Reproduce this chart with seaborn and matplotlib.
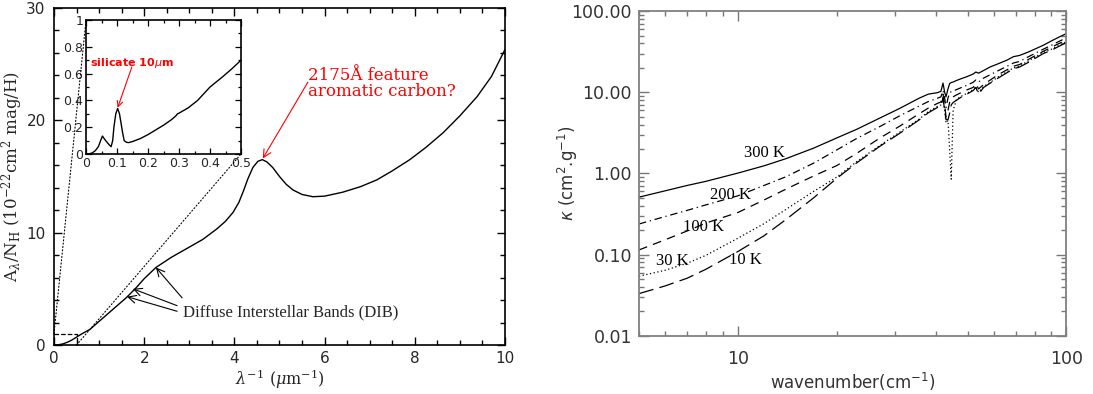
import matplotlib
matplotlib.use('Agg')
import matplotlib.pyplot as plt
import seaborn as sns
from matplotlib.patches import ConnectionPatch
from matplotlib.ticker import MultipleLocator, FormatStrFormatter, NullFormatter, LogLocator, FuncFormatter

# ---------------- data: left panel (extinction curve) ----------------
ext_x = [0, 0.1, 0.2, 0.3, 0.4, 0.5, 0.6, 0.8, 1.0, 1.2, 1.4, 1.6, 1.8, 2.0, 2.26, 2.6, 2.95,
         3.3, 3.6, 3.8, 3.97, 4.1, 4.2, 4.3, 4.41, 4.52, 4.62, 4.72, 4.85, 5.0, 5.15, 5.3, 5.5,
         5.74, 6.0, 6.4, 6.8, 7.16, 7.5, 7.89, 8.25, 8.63, 9.0, 9.38, 9.7, 10.0]
ext_y = [0, 0.02, 0.1, 0.25, 0.45, 0.7, 0.95, 1.4, 2.1, 2.8, 3.5, 4.2, 5.0, 5.9, 6.9, 7.8, 8.6,
         9.4, 10.3, 11.0, 11.8, 12.7, 13.7, 14.8, 15.8, 16.35, 16.5, 16.3, 15.8, 15.0, 14.3, 13.8, 13.4,
         13.2, 13.25, 13.6, 14.1, 14.7, 15.5, 16.5, 17.6, 18.9, 20.4, 22.1, 23.9, 26.3]

# inset (zoom on 0-0.5 um^-1)
ins_x = [0, 0.01, 0.02, 0.03, 0.04, 0.047, 0.053, 0.06, 0.067, 0.075, 0.081, 0.086, 0.09, 0.096,
         0.102, 0.108, 0.113, 0.118, 0.123, 0.13, 0.137, 0.15, 0.175, 0.2, 0.225, 0.25, 0.275,
         0.29, 0.295, 0.3, 0.33, 0.36, 0.4, 0.44, 0.47, 0.5]
ins_y = [0, 0.002, 0.008, 0.025, 0.055, 0.1, 0.134, 0.11, 0.09, 0.068, 0.055, 0.1, 0.2, 0.3,
         0.34, 0.3, 0.23, 0.16, 0.1, 0.088, 0.085, 0.093, 0.115, 0.145, 0.18, 0.215, 0.255,
         0.285, 0.3, 0.305, 0.345, 0.4, 0.5, 0.575, 0.635, 0.70]
ins_xlim = (0, 0.5)
ins_ylim = (0, 1)

# ---------------- data: right panel (opacity vs wavenumber) ----------------
wn = [5, 6, 7, 8, 10, 12, 14, 17, 20, 23, 27, 31, 35.7, 38, 40.5, 41.5, 42.1, 42.6, 43.0, 43.6,
      44.1, 44.6, 45.2, 46.3, 48, 50, 52, 53, 54, 56, 58.5, 62, 66, 69, 72, 76, 80, 85, 90, 95, 100]
k300 = [0.51, 0.61, 0.71, 0.80, 1.01, 1.24, 1.52, 2.05, 2.74, 3.5, 4.8, 6.3, 8.5, 9.5, 9.9, 10.3,
        13.0, 10.0, 8.8, 11.0, 12.8, 13.2, 13.4, 14.0, 14.8, 15.7, 16.8, 17.8, 17.2, 18.6, 20.5,
        22.5, 25, 27.5, 28.5, 31, 34, 38, 43, 48, 53]
k200 = [0.238, 0.294, 0.35, 0.41, 0.53, 0.71, 0.91, 1.34, 1.95, 2.7, 3.77, 5.1, 6.8, 7.7, 8.45, 8.8,
        10.5, 8.5, 6.5, 8.5, 9.8, 10.2, 10.4, 10.8, 11.5, 12.3, 13.3, 14.2, 13.4, 15.0, 16.4,
        18.5, 21, 23, 24, 27, 30, 34, 38, 42.5, 47]
k100 = [0.114, 0.152, 0.195, 0.245, 0.33, 0.47, 0.64, 0.93, 1.25, 1.77, 2.72, 3.8, 5.47, 6.4, 7.3, 7.6,
        9.5, 7.0, 5.0, 6.0, 7.5, 8.5, 8.8, 9.3, 10.0, 10.8, 11.5, 12.8, 11.0, 12.5, 14.1,
        16.5, 19, 21, 22, 25, 28, 32, 36, 40, 44]
k30 = [0.054, 0.064, 0.078, 0.098, 0.159, 0.24, 0.36, 0.6, 0.9, 1.4, 2.2, 3.2, 4.7, 5.8, 6.7, 7.0,
       8.8, 6.0, 4.2, 4.5, 2.0, 0.85, 6.0, 8.2, 9.0, 9.8, 10.8, 11.8, 10.0, 11.8, 13.2,
       15.5, 18, 20, 21, 24, 27, 31, 34, 38, 42]
k10 = [0.033, 0.041, 0.051, 0.066, 0.109, 0.17, 0.27, 0.5, 0.87, 1.35, 2.15, 3.1, 4.6, 5.6, 6.5, 6.8,
       8.5, 6.0, 4.6, 4.6, 5.5, 7.0, 7.5, 8.0, 8.8, 9.6, 10.5, 11.5, 9.5, 11.5, 12.9,
       15, 17.5, 19.5, 20.5, 23, 26, 30, 33, 37, 41]
temp_labels = ['300 K', '200 K', '100 K', '30 K', '10 K']
temp_series = [k300, k200, k100, k30, k10]
temp_styles = ['-', (0, (6, 3, 1, 3)), (0, (7, 5)), (0, (1, 2)), (0, (12, 5))]
label_pos = [(12.05, 1.79), (9.49, 0.543), (7.88, 0.216), (6.31, 0.0822), (10.54, 0.0857)]

sns.set_style('ticks')
plt.rcParams['font.family'] = ['DejaVu Sans']
plt.rcParams['axes.linewidth'] = 1.2

fig = plt.figure(figsize=(10.93, 3.94), dpi=100)

# ================= left panel =================
ax = fig.add_axes([0.0494, 0.1244, 0.4126, 0.8553])
sns.lineplot(x=ext_x, y=ext_y, ax=ax, color='black', lw=1.0)
ax.set_xlim(0, 10)
ax.set_ylim(0, 30)
ax.xaxis.set_major_locator(MultipleLocator(2))
ax.xaxis.set_minor_locator(MultipleLocator(0.5))
ax.yaxis.set_major_locator(MultipleLocator(10))
ax.yaxis.set_minor_locator(MultipleLocator(2))
ax.tick_params(which='both', direction='in', top=True, right=True, color='black', width=1.0)
ax.tick_params(which='major', length=6, labelsize=11)
ax.tick_params(which='minor', length=3.5)
ax.tick_params(axis='y', pad=6)
ax.tick_params(axis='x', pad=4)
for s in ax.spines.values():
    s.set_color('black')
ax.set_xlabel(r'$\lambda^{-1}$ ($\mu$m$^{-1}$)', family='DejaVu Serif', fontsize=11.5,
              math_fontfamily='dejavuserif')
ax.xaxis.set_label_coords(0.5, -0.066)
ax.set_ylabel(r'A$_\lambda$/N$_{\rm H}$ (10$^{-22}$cm$^2$ mag/H)', family='DejaVu Serif',
              fontsize=12, math_fontfamily='dejavuserif')
ax.yaxis.set_label_coords(-0.064, 0.5)

# zoom box
ax.plot([ins_xlim[0], ins_xlim[1], ins_xlim[1]], [ins_ylim[1], ins_ylim[1], ins_ylim[0]],
        ls='--', color='black', lw=0.9)

# annotations
ax.text(2.86, 2.94, 'Diffuse Interstellar Bands (DIB)', family='Liberation Serif', fontsize=12,
        ha='left', va='center')
for tip, tail in [((2.26, 6.9), (2.84, 4.2)), ((1.75, 5.0), (2.73, 3.5)), ((1.62, 4.3), (2.73, 3.0))]:
    ax.annotate('', xy=tip, xytext=tail,
                arrowprops=dict(arrowstyle='->', color='black', lw=0.8, shrinkA=0, shrinkB=0,
                                mutation_scale=14))
ax.text(5.63, 23.3, '2175Å feature\naromatic carbon?', family='DejaVu Serif', fontsize=12,
        color='red', ha='left', va='center', linespacing=0.95)
ax.annotate('', xy=(4.63, 16.6), xytext=(5.63, 23.4),
            arrowprops=dict(arrowstyle='->', color='red', lw=0.8, shrinkA=0, shrinkB=0,
                            mutation_scale=14))

# inset
axins = fig.add_axes([0.0787, 0.6091, 0.1418, 0.3401])
sns.lineplot(x=ins_x, y=ins_y, ax=axins, color='black', lw=1.0)
axins.set_xlim(*ins_xlim)
axins.set_ylim(*ins_ylim)
axins.xaxis.set_major_locator(MultipleLocator(0.1))
axins.xaxis.set_minor_locator(MultipleLocator(0.05))
axins.yaxis.set_major_locator(MultipleLocator(0.2))
axins.yaxis.set_minor_locator(MultipleLocator(0.1))
axins.xaxis.set_major_formatter(FuncFormatter(lambda v, p: '0' if abs(v) < 1e-9 else f'{v:.1f}'))
axins.yaxis.set_major_formatter(FuncFormatter(lambda v, p: '0' if abs(v) < 1e-9 else ('1' if abs(v-1) < 1e-9 else f'{v:.1f}')))
axins.tick_params(which='both', direction='in', top=True, right=True, color='black', width=0.9)
axins.tick_params(which='major', length=4, labelsize=9, pad=2)
axins.tick_params(which='minor', length=2.5)
for s in axins.spines.values():
    s.set_color('black')
    s.set_linewidth(1.2)
axins.text(0.013, 0.68, r'silicate 10$\mu$m', color='red', fontsize=8, fontweight='bold',
           ha='left', va='center')
axins.annotate('', xy=(0.102, 0.345), xytext=(0.148, 0.65),
               arrowprops=dict(arrowstyle='->', color='red', lw=0.8, shrinkA=0, shrinkB=0,
                               mutation_scale=10))

# connectors from zoom box to inset corners
for xa, xb in [((ins_xlim[0], ins_ylim[1]), (0, 1)), ((ins_xlim[1], ins_ylim[0]), (1, 0))]:
    con = ConnectionPatch(xyA=xa, coordsA=ax.transData, xyB=xb, coordsB=axins.transAxes,
                          ls=(0, (1, 2)), lw=0.8, color='black')
    fig.add_artist(con)

# ================= right panel =================
ax2 = fig.add_axes([0.5846, 0.148, 0.3911, 0.8236])
for lab, ser, st in zip(temp_labels, temp_series, temp_styles):
    sns.lineplot(x=wn, y=ser, ax=ax2, color='black', lw=0.9, linestyle=st)
ax2.set_xscale('log')
ax2.set_yscale('log')
ax2.set_xlim(5, 100)
ax2.set_ylim(0.01, 100)
ax2.yaxis.set_major_locator(LogLocator(base=10, numticks=10))
ax2.yaxis.set_major_formatter(FormatStrFormatter('%.2f'))
ax2.yaxis.set_minor_locator(LogLocator(base=10, subs=range(2, 10), numticks=20))
ax2.yaxis.set_minor_formatter(NullFormatter())
ax2.xaxis.set_major_locator(LogLocator(base=10, numticks=10))
ax2.xaxis.set_major_formatter(FuncFormatter(lambda v, p: f'{v:g}'))
ax2.xaxis.set_minor_locator(LogLocator(base=10, subs=range(2, 10), numticks=20))
ax2.xaxis.set_minor_formatter(NullFormatter())
ax2.tick_params(which='both', direction='in', top=True, right=True, color='#777777', width=1.0,
                labelcolor='#333333')
ax2.tick_params(which='major', length=7, labelsize=12.5)
ax2.tick_params(which='minor', length=3.5)
ax2.tick_params(axis='x', pad=10)
ax2.tick_params(axis='y', pad=5)
for s in ax2.spines.values():
    s.set_color('#808080')
    s.set_linewidth(1.3)
for lab, (lx, ly) in zip(temp_labels, label_pos):
    ax2.text(lx, ly, lab, family='Liberation Serif', fontsize=12, ha='center', va='center',
             color='black')
ax2.set_xlabel(r'wavenumber(cm$^{-1}$)', fontsize=12, color='#333333')
ax2.xaxis.set_label_coords(0.5, -0.11)
ax2.set_ylabel(r'$\kappa$ (cm$^2$.g$^{-1}$)', fontsize=12, color='#333333')
ax2.yaxis.set_label_coords(-0.138, 0.5)

fig.savefig('out.png', dpi=100)
